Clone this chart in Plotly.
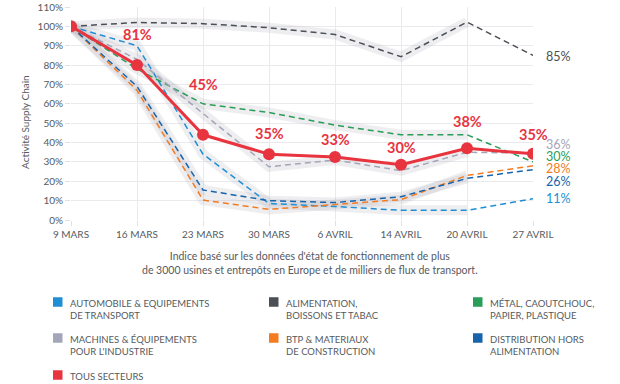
import plotly.graph_objects as go

# ---- data ----
dates = ["9 MARS", "16 MARS", "23 MARS", "30 MARS", "6 AVRIL", "14 AVRIL", "20 AVRIL", "27 AVRIL"]
automobile = [100, 90, 34, 8.5, 7, 5, 5, 11]
alimentation = [100, 102, 101.4, 99.3, 95.8, 84.3, 102.2, 85]
metal = [100, 78, 60, 55.5, 49, 44, 44, 30]
machines = [100, 83, 55, 27.5, 31, 25.5, 35, 34.5]
btp = [100, 67, 10.3, 5.5, 8, 10.5, 23, 28]
distribution = [100, 69, 15.5, 10, 9, 12, 21.5, 26]
tous = [100, 80, 44, 34, 32.5, 28.5, 37, 34.2]
tous_labels = ["", "81%", "45%", "35%", "33%", "30%", "38%", "35%"]
end_labels = ["11%", "85%", "30%", "36%", "28%", "26%"]

series_names = [
    "AUTOMOBILE & EQUIPEMENTS<br>DE TRANSPORT",
    "ALIMENTATION,<br>BOISSONS ET TABAC",
    "MÉTAL, CAOUTCHOUC,<br>PAPIER, PLASTIQUE",
    "MACHINES & ÉQUIPEMENTS<br>POUR L'INDUSTRIE",
    "BTP & MATERIAUX<br>DE CONSTRUCTION",
    "DISTRIBUTION HORS<br>ALIMENTATION",
]
series_values = [automobile, alimentation, metal, machines, btp, distribution]
series_colors = ["#1e8fd5", "#4a4f55", "#2a9d58", "#a3a5b8", "#f47b20", "#1764ad"]
red = "#e8343f"

# layout helpers (pixel -> paper)
L, R, T, B = 71, 87, 7, 164
W, H = 620, 384
PW, PH = W - L - R, H - T - B


def px(x):
    return (x - L) / PW


def py(y):
    return (H - B - y) / PH


font = "Lato, 'Open Sans', sans-serif"
grey_text = "#555a60"

fig = go.Figure()

# halos
for vals in series_values:
    fig.add_trace(go.Scatter(x=dates[:7], y=vals[:7], mode="lines",
                             line=dict(color="rgba(170,170,178,0.2)", width=10),
                             hoverinfo="skip", showlegend=False))

# dashed sector lines
for name, vals, col in zip(series_names, series_values, series_colors):
    fig.add_trace(go.Scatter(x=dates, y=vals, mode="lines", name=name.replace("<br>", " "),
                             line=dict(color=col, width=1.5, dash="6px,4px"),
                             showlegend=False))

# tous secteurs
fig.add_trace(go.Scatter(x=dates, y=tous, mode="lines+markers", name="TOUS SECTEURS",
                         line=dict(color=red, width=3),
                         marker=dict(color=red, size=12), showlegend=False))

annotations = []
# red value labels
label_shift = [0, 31, 50, 21, 18, 17, 27, 19]
for d, v, t, s in zip(dates, tous, tous_labels, label_shift):
    if t:
        annotations.append(dict(x=d, y=v, text=f"<b>{t}</b>", showarrow=False, yshift=s,
                                xanchor="center", yanchor="middle",
                                font=dict(family=font, size=14.5, color=red)))

# end labels (sector final values)
end_order = [1, 3, 2, 4, 5, 0]
end_label_y = [84.5, 38.8, 32.6, 26.6, 20.0, 10.9]
for idx, yv in zip(end_order, end_label_y):
    annotations.append(dict(x=dates[-1], y=yv, text=end_labels[idx], showarrow=False,
                            xanchor="left", yanchor="middle", xshift=12, borderpad=0,
                            font=dict(family=font, size=12.5, color=series_colors[idx])))

# y-axis title
annotations.append(dict(x=px(25), y=py(122), xref="paper", yref="paper",
                        xanchor="center", yanchor="middle",
                        text="Activité Supply Chain", textangle=-90, showarrow=False,
                        font=dict(family=font, size=10, color=grey_text)))

# caption
annotations.append(dict(x=px(310), y=py(263), xref="paper", yref="paper",
                        xanchor="center", yanchor="middle",
                        text="Indice basé sur les données d'état de fonctionnement de plus<br>"
                             "de 3000 usines et entrepôts en Europe et de milliers de flux de transport.",
                        showarrow=False, align="center",
                        font=dict(family=font, size=10.5, color=grey_text)))

# custom legend
legend_items = series_names + ["TOUS SECTEURS"]
legend_colors = series_colors + [red]
col_x = [53, 269, 473]
row_y = [302, 338, 375]
shapes = []
for i, (nm, col) in enumerate(zip(legend_items, legend_colors)):
    cx = col_x[i % 3]
    ry = row_y[i // 3]
    shapes.append(dict(type="rect", xref="paper", yref="paper",
                       x0=px(cx), x1=px(cx + 9.5), y0=py(ry - 4.75), y1=py(ry + 4.75),
                       fillcolor=col, line=dict(width=0)))
    annotations.append(dict(x=px(cx + 15), y=py(ry - 6.5), xref="paper", yref="paper",
                            xanchor="left", yanchor="top", align="left", text=nm,
                            showarrow=False,
                            font=dict(family=font, size=9.5, color=grey_text)))

fig.update_layout(
    width=W, height=H,
    margin=dict(l=L, r=R, t=T, b=B, autoexpand=False),
    paper_bgcolor="white", plot_bgcolor="white",
    showlegend=False,
    annotations=annotations, shapes=shapes,
    xaxis=dict(type="category", range=[0, 7], showgrid=True, gridcolor="#e9e9ee",
               gridwidth=1, ticks="outside", ticklen=5, tickcolor="#e0e0e6",
               tickfont=dict(family=font, size=10, color=grey_text),
               zeroline=False, showline=False, fixedrange=True, automargin=False),
    yaxis=dict(range=[0, 110], dtick=10, ticksuffix="%", showgrid=True,
               gridcolor="#e9e9ee", ticks="outside", ticklen=5, tickcolor="#e0e0e6",
               tickfont=dict(family=font, size=10, color=grey_text),
               zeroline=False, showline=False, automargin=False),
)

fig.write_html("out.html", config={"displayModeBar": False},
               post_script="document.body.style.margin='0';document.body.style.overflow='hidden';")
